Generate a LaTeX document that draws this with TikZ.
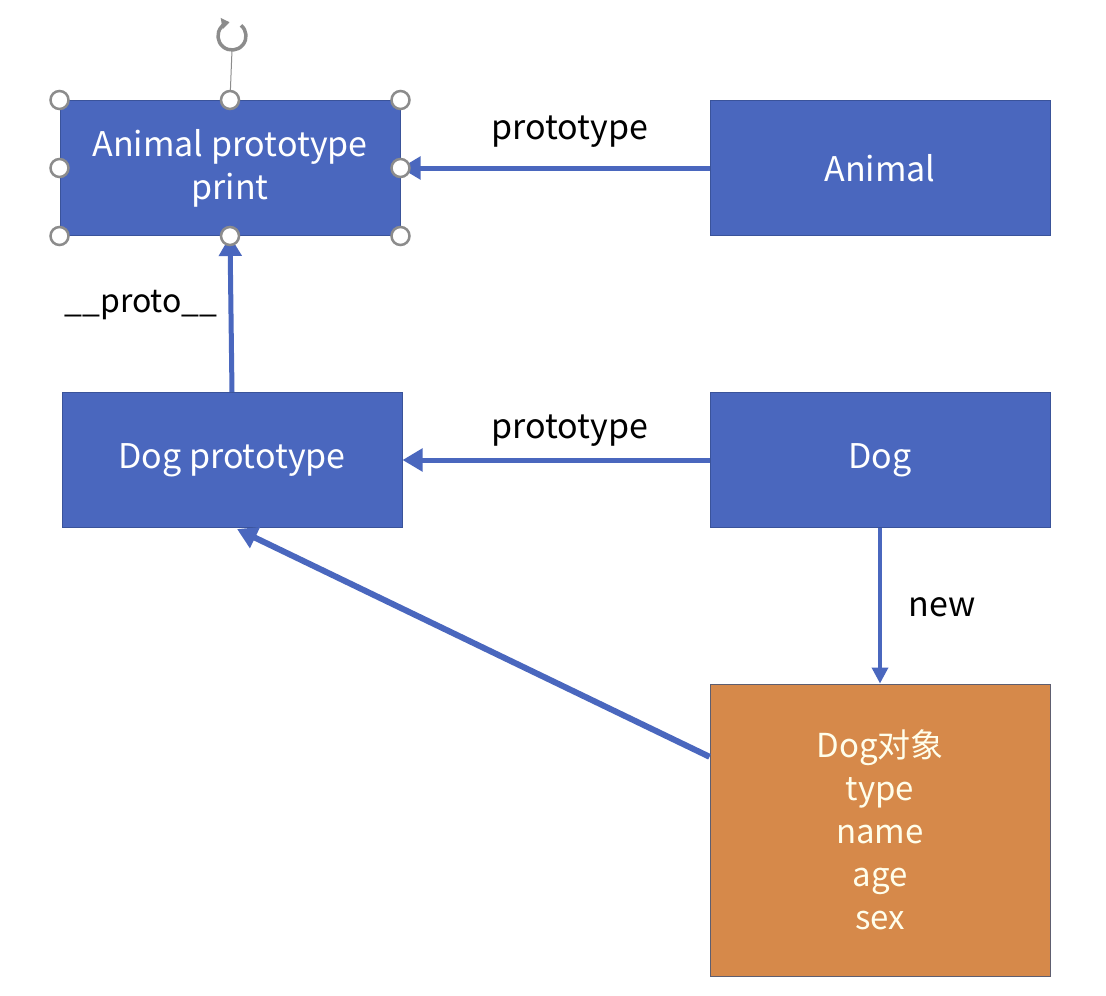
\documentclass[tikz,border=0pt]{standalone}
\usepackage{fontspec}
\setmainfont{Noto Sans CJK SC}
\usetikzlibrary{arrows.meta,calc}
\definecolor{boxblue}{HTML}{4A67BE}
\definecolor{boxedge}{HTML}{3A539A}
\definecolor{boxorange}{HTML}{D6894A}
\definecolor{orangeedge}{HTML}{5E5E70}
\definecolor{arrowblue}{HTML}{4A67BE}
\definecolor{handlegray}{HTML}{8C8C8C}
\begin{document}
\begin{tikzpicture}[x=1pt,y=-1pt,
  bluebox/.style={draw=boxedge,line width=1pt,fill=boxblue,text=white,
    minimum width=340pt,minimum height=135pt,inner sep=0pt,align=center,
    font=\fontsize{34}{43}\selectfont},
  orangebox/.style={draw=orangeedge,line width=1pt,fill=boxorange,text=white!92!yellow,
    minimum width=340pt,minimum height=292pt,inner sep=0pt,align=center,
    font=\fontsize{33}{43}\selectfont},
  conn/.style={draw=arrowblue,line width=5pt,-{Triangle[length=20pt,width=22pt]}},
  thinconn/.style={draw=arrowblue,line width=3.5pt,-{Triangle[length=16pt,width=16pt]}},
  lbl/.style={text=black,font=\fontsize{34}{40}\selectfont,inner sep=0pt},
  handle/.style={circle,draw=handlegray,line width=2.5pt,fill=white,minimum size=18pt,inner sep=0pt}
]
\useasboundingbox[fill=white] (0,0) rectangle (1106,996);

\node[bluebox] (AP) at (230,168) {Animal prototype\\print};
\node[bluebox] (A) at (880,168) {Animal};
\node[bluebox] (DP) at (232,460) {Dog prototype};
\node[bluebox] (D) at (880,460) {Dog};
\node[orangebox] (DO) at (880,830) {Dog对象\\type\\name\\age\\sex};

\coordinate (dostart) at ($(DO.north west)!0.25!(DO.south west)$);
\coordinate (dpend) at ($(DP.south)+(5,1)$);

\draw[conn] (A.west) -- (AP.east);
\draw[conn] (D.west) -- (DP.east);
\draw[conn] (DP.north) -- (AP.south);
\draw[thinconn] (D.south) -- (DO.north);
\draw[conn,line width=6pt] (dostart) -- (dpend);

\node[lbl] (l1) at (570,132) {prototype};
\node[lbl] (l2) at (570,431) {prototype};
\node[lbl,font=\fontsize{32}{38}\selectfont] (l3) at (141,305) {\_\_proto\_\_};
\node[lbl] (l4) at (942,607) {new};

% selection handles
\coordinate (rot) at (232,36);
\draw[handlegray,line width=1pt] (AP.north) -- ($(rot)+(0,14)$);
\draw[handlegray,line width=3.5pt,-{Triangle[length=8pt,width=11pt]}]
  (rot) ++(-50:14) arc[start angle=-50,end angle=260,radius=14];
\foreach \a in {north west,north,north east,east,south east,south,south west,west}
  \node[handle] at (AP.\a) {};
\end{tikzpicture}
\end{document}
